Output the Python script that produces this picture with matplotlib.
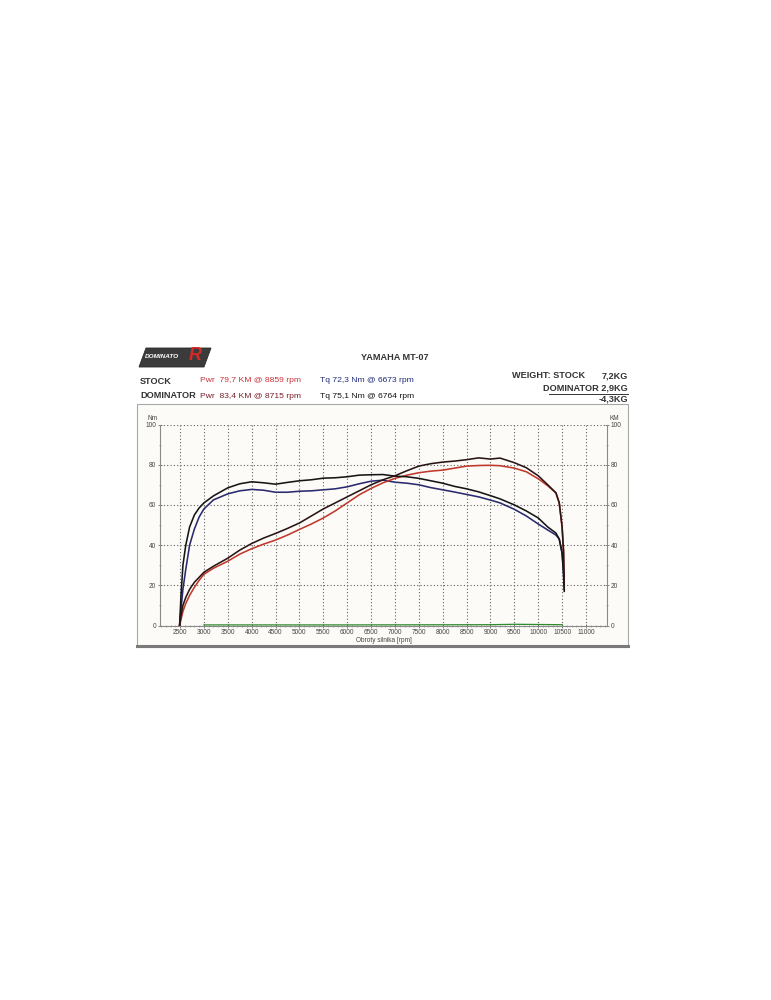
import matplotlib
matplotlib.use("Agg")
import matplotlib.pyplot as plt
from matplotlib.patches import Rectangle, Polygon
from matplotlib.lines import Line2D
from matplotlib.ticker import MultipleLocator

plt.rcParams['font.family'] = ['Liberation Sans', 'DejaVu Sans']

# ---------------- data ----------------
rpm = [2490, 2520, 2560, 2620, 2700, 2800, 2900, 3000, 3200, 3500, 3750, 4000,
       4250, 4500, 4750, 5000, 5250, 5500, 5750, 6000, 6250, 6500, 6750, 7000,
       7250, 7500, 7750, 8000, 8250, 8500, 8750, 9000, 9200, 9500, 9750, 10000,
       10200, 10370, 10440, 10500, 10530, 10545]

tq_dominator = [0, 15, 30, 40, 49, 55, 58.5, 61, 64.5, 68.5, 70.5, 71.5,
                71, 70.3, 71.2, 72, 72.5, 73.3, 73.5, 74, 74.8, 75, 75.1, 74.3,
                74, 73.2, 72, 70.8, 69.2, 68, 66.5, 64.6, 63, 60, 57, 53.5,
                49, 46, 43, 36, 26, 17]

tq_stock = [0, 8, 18, 28, 40, 48, 54, 58, 62.5, 65.5, 67, 67.7,
            67.3, 66.3, 66.3, 66.8, 67, 67.5, 68, 69, 70.5, 71.8, 72.3, 71.3,
            70.8, 70, 68.6, 67.5, 66.4, 65.2, 64, 62.4, 61, 57.8, 54.5, 50.5,
            47.5, 45, 43, 36, 26, 18]

pwr_dominator = [0, 5, 10, 14, 18, 21.5, 24, 26.5, 29.5, 33.5, 37.5, 40.8,
                 43.5, 45.8, 48.3, 51, 54.5, 58, 61, 64, 67, 70, 72.5, 74.5,
                 77, 79.3, 80.5, 81.3, 81.8, 82.5, 83.4, 82.8, 83.3, 81, 78.5, 74.5,
                 70, 66, 61, 49, 37, 20]

pwr_stock = [0, 3, 7, 11, 15, 19, 22.5, 25.5, 28.5, 32, 35.5, 38.2,
             40.5, 42.5, 45, 47.8, 50.5, 53.5, 57, 61, 65, 68.2, 71, 73.2,
             74.8, 76, 76.8, 77.3, 78.3, 79.3, 79.6, 79.7, 79.5, 78.3, 76.5, 73,
             69.5, 66, 61, 49, 37, 19]

aux_rpm = [3000, 6000, 9000, 9500, 10000, 10500]
aux_val = [0.3, 0.3, 0.4, 0.6, 0.5, 0.4]

x_ticks = [2500, 3000, 3500, 4000, 4500, 5000, 5500, 6000, 6500, 7000, 7500,
           8000, 8500, 9000, 9500, 10000, 10500, 11000]
y_ticks = [0, 20, 40, 60, 80, 100]

# ---------------- figure ----------------
W, H = 771, 1000
fig = plt.figure(figsize=(W / 100, H / 100), dpi=100)
fig.patch.set_facecolor('white')

def fx(px):
    return px / W

def fy(py):
    return 1 - py / H

# chart panel
fig.patches.append(Rectangle((fx(137), fy(647)), fx(628) - fx(137), fy(404) - fy(647),
                             transform=fig.transFigure, facecolor='#fcfbf8',
                             edgecolor='#a8a8a8', linewidth=0.8, zorder=-10))
fig.lines.append(Line2D([fx(137), fx(628)], [fy(646), fy(646)], transform=fig.transFigure,
                        color='#7a7a7a', linewidth=2.2, zorder=-9))

ax = fig.add_axes([fx(160), fy(625.5), fx(607) - fx(160), fy(424.5) - fy(625.5)])
ax.set_zorder(5)
ax.set_facecolor('none')
ax.set_xlim(2080, 11440)
ax.set_ylim(0, 100)

ax.plot(aux_rpm, aux_val, color='#2e8b2e', lw=0.9, zorder=3)
ax.plot(rpm, tq_stock, color='#2a2a6e', lw=1.15, zorder=4)
ax.plot(rpm, pwr_stock, color='#c0392b', lw=1.15, zorder=4)
ax.plot(rpm, tq_dominator, color='#151515', lw=1.15, zorder=5)
ax.plot(rpm, pwr_dominator, color='#2a1515', lw=1.15, zorder=5)

ax.set_xticks(x_ticks)
ax.set_xticklabels([str(t) for t in x_ticks])
ax.set_yticks(y_ticks)
ax.xaxis.set_minor_locator(MultipleLocator(100))
ax.yaxis.set_minor_locator(MultipleLocator(10))
ax.grid(True, which='major', color='#606060', linestyle=(0, (1, 2)), linewidth=0.8)
ax.tick_params(axis='both', which='major', labelsize=4.7, colors='#555555',
               length=2.5, width=0.5, direction='inout', pad=1.5)
ax.tick_params(axis='both', which='minor', length=1.8, width=0.4, colors='#777777',
               direction='inout')
ax.tick_params(axis='y', which='both', left=True, right=True, labelleft=True, labelright=True)
for t in ax.get_xticklabels() + ax.get_yticklabels():
    t.set_color('#444444')
for s in ['left', 'right', 'bottom']:
    ax.spines[s].set_color('#8a8a8a')
    ax.spines[s].set_linewidth(0.8)
ax.spines['top'].set_visible(False)
ax.set_xlabel('Obroty silnika [rpm]', fontsize=4.7, color='#444444', labelpad=0.5)

fig.text(fx(147), fy(419), 'Nm', fontsize=4.7, color='#444444', va='center', ha='left')
fig.text(fx(610), fy(419), 'KM', fontsize=4.7, color='#444444', va='center', ha='left')
for yy in [508, 531, 553]:
    fig.text(fx(627), fy(yy), '\u00b7', fontsize=5, color='#999999', ha='center', va='center')

# ---------------- header ----------------
logo = Polygon([(fx(139), fy(367)), (fx(146), fy(348)), (fx(211), fy(348)), (fx(204), fy(367))],
               closed=True, transform=fig.transFigure, facecolor='#3b3b3b',
               edgecolor='#2a2a2a', linewidth=0.6, zorder=2)
fig.patches.append(logo)
fig.text(fx(145), fy(357), 'DOMINATO', fontsize=4.6, color='white', fontweight='bold',
         style='italic', ha='left', va='center', zorder=3)
fig.text(fx(189), fy(356), 'R', fontsize=13, color='#d42a2a', fontweight='bold',
         style='italic', ha='left', va='center', zorder=3)

hdr = dict(fontsize=6.6, fontweight='bold', va='center')
fig.text(fx(395), fy(358), 'YAMAHA MT-07', color='#333333', ha='center', **hdr)
fig.text(fx(140), fy(381), 'STOCK', color='#333333', ha='left', **hdr)
fig.text(fx(140), fy(396), 'DOMINATOR', color='#333333', ha='left', **hdr)

row = dict(fontsize=6.1, va='center', ha='left')
fig.text(fx(200), fy(381), 'Pwr  79,7 KM @ 8859 rpm', color='#c8323a', **row)
fig.text(fx(200), fy(396), 'Pwr  83,4 KM @ 8715 rpm', color='#7a1e2a', **row)
fig.text(fx(320), fy(381), 'Tq 72,3 Nm @ 6673 rpm', color='#1e2a78', **row)
fig.text(fx(320), fy(396), 'Tq 75,1 Nm @ 6764 rpm', color='#111111', **row)

fig.text(fx(512), fy(376), 'WEIGHT: STOCK', color='#333333', ha='left', **hdr)
fig.text(fx(628), fy(376), '7,2KG', color='#333333', ha='right', **hdr)
fig.text(fx(628), fy(388), 'DOMINATOR 2,9KG', color='#333333', ha='right', **hdr)
fig.lines.append(Line2D([fx(549), fx(628)], [fy(393.5), fy(393.5)], transform=fig.transFigure,
                        color='#333333', linewidth=0.7))
fig.text(fx(628), fy(399), '-4,3KG', color='#333333', ha='right', **hdr)

fig.savefig('out.png', dpi=100, facecolor='white')
